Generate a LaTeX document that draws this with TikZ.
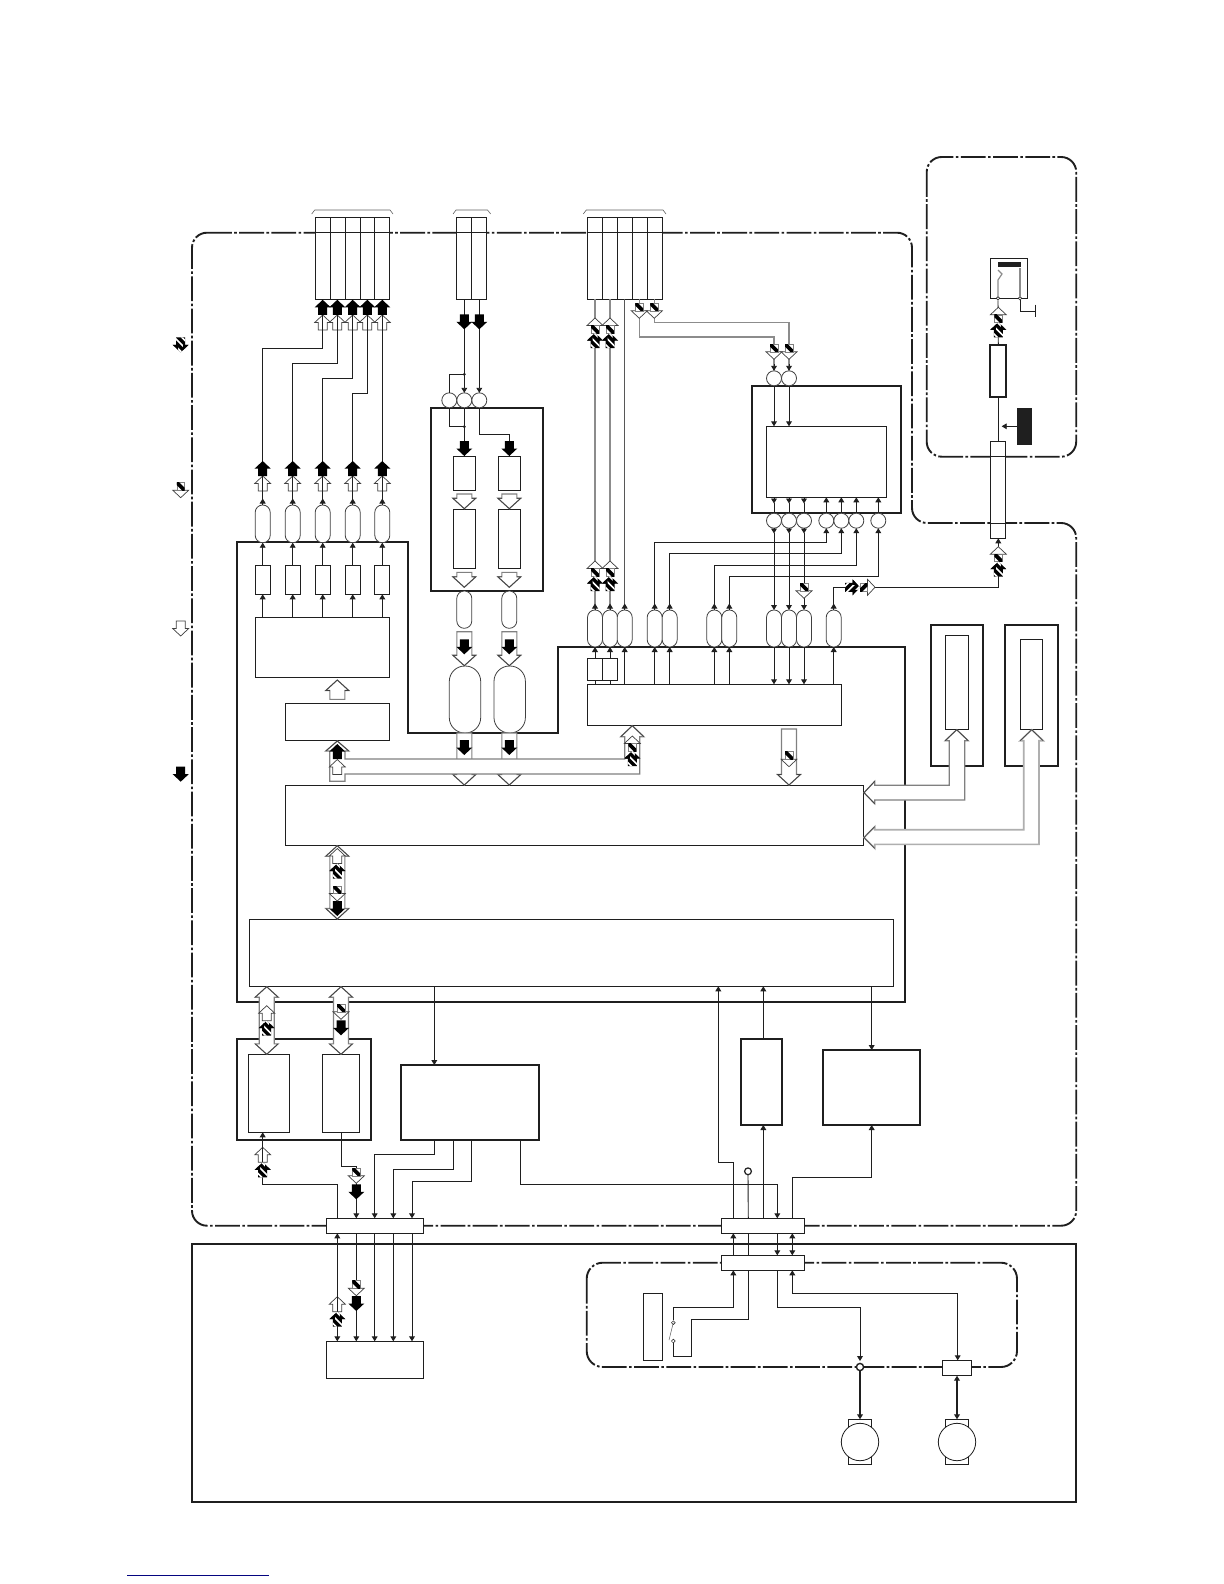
\documentclass[tikz,border=0pt]{standalone}
\usetikzlibrary{arrows.meta,shapes.geometric}
\definecolor{ink}{gray}{0.12}
\definecolor{busgray}{gray}{0.5}
\definecolor{wiregray}{gray}{0.55}
\definecolor{rulenavy}{rgb}{0.02,0.02,0.5}
\tikzset{
  thinbox/.style={draw=ink,fill=white,line width=0.45pt,inner sep=0pt,outer sep=0pt},
  thickbox/.style={draw=ink,fill=white,line width=0.95pt,inner sep=0pt,outer sep=0pt},
  capsule/.style={draw=ink!85,fill=white,line width=0.4pt,rounded corners=3.7pt,inner sep=0pt,outer sep=0pt},
  bigcapsule/.style={draw=ink!85,fill=white,line width=0.4pt,rounded corners=7.7pt,inner sep=0pt,outer sep=0pt},
  ring/.style={circle,draw=ink!85,fill=white,line width=0.4pt,minimum size=7.5pt,inner sep=0pt,outer sep=0pt},
  jdot/.style={circle,fill=ink,minimum size=1.6pt,inner sep=0pt,outer sep=0pt},
  wire/.style={draw=ink,line width=0.45pt},
  gwire/.style={draw=wiregray,line width=0.6pt},
  wa/.style={wire,-{Triangle[length=2.5pt,width=2.9pt]}},
  wd/.style={wire,{Triangle[length=2.5pt,width=2.9pt]}-{Triangle[length=2.5pt,width=2.9pt]}},
  heavy/.style={draw=ink,line width=0.95pt},
  dd/.style={draw=ink,line width=0.95pt,dash pattern=on 12.4pt off 1.2pt on 1.3pt off 1.2pt},
  headln/.style={draw=ink!85,line width=0.35pt},
}
\newcommand{\Bx}[6][thinbox]{\node[#1,minimum width={(#5-#3)*0.5pt},minimum height={(#6-#4)*0.5pt}] (#2) at ({(#3+#5)/2},{(#4+#6)/2}) {};}
\newcommand{\Cp}[5][capsule]{\node[#1,minimum width={(#3)*0.5pt},minimum height={(#5-#4)*0.5pt}] (#2) at (\cpx,{(#4+#5)/2}) {};}
\newcommand{\ArrP}{(-4.5,-15)--(4.5,-15)--(4.5,-7.5)--(8,-7.5)--(0,0)--(-8,-7.5)--(-4.5,-7.5)--cycle}
\newcommand{\Bk}[3]{\fill[black,shift={(#1,#2)},rotate=#3] \ArrP;}
\newcommand{\Ho}[3]{\filldraw[fill=white,headln,shift={(#1,#2)},rotate=#3] \ArrP;}
\newcommand{\Hf}[3]{\begin{scope}[shift={(#1,#2)},rotate=#3]\begin{scope}\clip \ArrP;
  \fill[black] (-9,-16) rectangle (9,1);
  \foreach \k in {-14,-6.5,1,8.5}{\draw[white,line width=0.8pt] (\k-12,-19.5) -- (\k+12,4.5);}
  \end{scope}
  \fill[black] (-8,-7.5) -- (-2.5,-7.5) -- (-2.5,-2.3) -- cycle;
  \fill[black] (8,-7.5) -- (2.5,-7.5) -- (2.5,-2.3) -- cycle;
  \end{scope}}
\newcommand{\Hq}[3]{\begin{scope}[shift={(#1,#2)},rotate=#3]
  \filldraw[fill=white,headln] (-8,-7.5) -- (0,0) -- (8,-7.5) -- cycle;
  \filldraw[fill=white,draw=busgray,line width=0.3pt] (-3.9,-15) rectangle (3.9,-7.5);
  \begin{scope}\clip (-3.9,-15) rectangle (3.9,-7.5);
  \draw[black,line width=1.9pt] (-7,-18.25) -- (7,-4.25);
  \fill[black] (-3.9,-15) -- (-3.9,-13) -- (-1.9,-15) -- cycle;
  \end{scope}\end{scope}}
\newcommand{\LgA}[4]{\begin{scope}[shift={(#1,#2)},rotate=#3]
  \filldraw[fill=white,draw=busgray,line width=0.55pt] (-7.5,-#4) -- (7.5,-#4) -- (7.5,-10.5) -- (11.5,-10.5) -- (0,0) -- (-11.5,-10.5) -- (-7.5,-10.5) -- cycle;
  \draw[headln] (-7.5,-10.5) -- (-11.5,-10.5) -- (0,0) -- (11.5,-10.5) -- (7.5,-10.5);
  \end{scope}}
\newcommand{\LgD}[3]{
  \filldraw[fill=white,draw=busgray,line width=0.55pt] (#1,#2) -- ++(11.5,10.5) -- ++(-4,0) -- (#1+7.5,#3-10.5) -- ++(4,0) -- (#1,#3) -- ++(-11.5,-10.5) -- ++(4,0) -- (#1-7.5,#2+10.5) -- ++(-4,0) -- cycle;
  \draw[headln] (#1-11.5,#2+10.5) -- (#1,#2) -- (#1+11.5,#2+10.5);
  \draw[headln] (#1-11.5,#3-10.5) -- (#1,#3) -- (#1+11.5,#3-10.5);}
\begin{document}
\begin{tikzpicture}[x=0.5pt,y=-0.5pt]
\path[use as bounding box,fill=white] (0,0) rectangle (1224,1584);

% ---- dash-dot regions and outer frames
\draw[dd,rounded corners=7.5pt] (192,232.7) -- (912,232.7) -- (912,523) -- (1076.2,523) -- (1076.2,1225.7) -- (192,1225.7) -- cycle;
\draw[dd,rounded corners=7.5pt] (926.7,157) rectangle (1076.2,456.7);
\draw[dd,rounded corners=8pt] (586.7,1262.7) rectangle (1017,1367);
\draw[heavy] (192,1244) rectangle (1076.2,1502);
\draw[heavy] (237,542) -- (408,542) -- (408,733) -- (558,733) -- (558,647) -- (905,647) -- (905,1002) -- (237,1002) -- cycle;
\draw[rulenavy,line width=0.8pt] (127.3,1575.3) -- (269,1575.3);

% ---- connector blocks at the top
\foreach \i/\a/\b in {1/315.3/330.3,2/330.3/345.7,3/345.7/360,4/360/374.3,5/374.3/389.7}{\Bx{gA\i}{\a}{217.3}{\b}{299.3}}
\foreach \i/\a/\b in {1/456.3/471.7,2/471.7/486.7}{\Bx{gB\i}{\a}{217.3}{\b}{299.3}}
\foreach \i/\a/\b in {1/587.3/602.3,2/602.3/617.7,3/617.7/632.7,4/632.7/647.7,5/647.7/662.7}{\Bx{gC\i}{\a}{217.3}{\b}{299.3}}
\draw[wire] (gA1.west |- 0,232.7) -- (gA5.east |- 0,232.7);
\draw[wire] (gB1.west |- 0,232.7) -- (gB2.east |- 0,232.7);
\draw[wire] (gC1.west |- 0,232.7) -- (gC5.east |- 0,232.7);
\draw[draw=ink!70,line width=0.3pt] (311.7,214) -- (314.7,210) -- (390,210) -- (393,214);
\draw[draw=ink!70,line width=0.3pt] (453,214) -- (456,210) -- (487.5,210) -- (490.7,214);
\draw[draw=ink!70,line width=0.3pt] (583.3,214) -- (586.3,210) -- (663,210) -- (666,214);

% ---- output driver group
\Bx{boxDrv}{255.3}{617.3}{389.7}{677.7}
\Bx{boxPre}{285.3}{703.3}{389.7}{740.3}
\foreach \i/\x in {1/262.7,2/292.7,3/322.7,4/352.7,5/382.3}{
  \def\cpx{\x}\Cp{oa\i}{15}{505}{542.7}
  \node[thinbox,minimum width=7.5pt,minimum height=14.3pt] (ra\i) at (\x,580) {};
}
% ---- middle thick group
\Bx[thickbox]{boxMid}{430.7}{407.7}{543.3}{591}
\Bx{rb1}{453.3}{456.3}{475.7}{490.7}
\Bx{rb2}{498.3}{456.3}{520.7}{490.7}
\Bx{rc1}{453.3}{509.3}{475.7}{568.3}
\Bx{rc2}{498.3}{509.3}{520.7}{568.3}
\node[ring] (rA1) at (449.3,400.3) {};
\node[ring] (rA2) at (464.3,400.3) {};
\node[ring] (rA3) at (479.3,400.3) {};
\node[jdot] (jn1) at (464.3,374.3) {};
\node[jdot] (jn2) at (464.3,426.7) {};
\def\cpx{464.3}\Cp{od1}{15}{591}{628.3}
\def\cpx{509.3}\Cp{od2}{15}{591}{628.3}
\def\cpx{465}\Cp[bigcapsule]{oe1}{31.4}{666}{733}
\def\cpx{509.7}\Cp[bigcapsule]{oe2}{31.4}{666}{733}

% ---- right upper thick group
\Bx[thickbox]{boxR}{751.7}{385.7}{901}{513.3}
\Bx{boxIn}{766.3}{426.3}{886.7}{497.3}
\node[ring] (ct1) at (774,378.3) {};
\node[ring] (ct2) at (789,378.3) {};
\foreach \i/\x in {1/774,2/789,3/804,4/826.3,5/841.3,6/856.3,7/878.3}{\node[ring] (cb\i) at (\x,520.7) {};}

% ---- lower ovals and control box
\foreach \i/\x in {1/595,2/610,3/624.7,4/654.7,5/669.7,6/714.3,7/729.3,8/774,9/789,10/804,11/833.7}{\def\cpx{\x}\Cp{oc\i}{15}{610}{647}}
\Bx{boxCtl}{587.3}{684.3}{841.7}{725.3}
\Bx{sr1}{587.3}{658.3}{602.3}{680.3}
\Bx{sr2}{602.3}{658.3}{617.7}{680.3}

% ---- wide boxes
\Bx{boxWide}{285.3}{785.3}{863.7}{845.3}
\Bx{boxBase}{249.3}{919.3}{893.3}{986.3}

% ---- right side units
\Bx[thickbox]{boxA}{930.7}{624.7}{983.3}{766.3}
\Bx{inA}{945.3}{635.3}{968.7}{729.3}
\Bx[thickbox]{boxB}{1004.7}{624.7}{1058.3}{766.3}
\Bx{inB}{1020.3}{639.3}{1042.7}{729.3}

% ---- top right
\Bx{connR}{990.3}{441.3}{1005.7}{538.3}
\draw[wire] (connR.west |- 0,456.7) -- (connR.east |- 0,456.7);
\draw[wire] (connR.west |- 0,523) -- (connR.east |- 0,523);
\Bx[thickbox]{boxT}{990.3}{344.7}{1005.7}{397}
\Bx{boxS}{990.3}{258.3}{1027.7}{298.3}
\node[fill=ink,inner sep=0pt,minimum width=11.5pt,minimum height=2.5pt] (barS) at (1009.5,264.8) {};
\node[fill=ink,inner sep=0pt,minimum width=7.5pt,minimum height=18.3pt] (blk) at (1024.5,426.3) {};
\node[circle,draw=ink,fill=white,line width=0.3pt,minimum size=1.7pt,inner sep=0pt] (ps1) at (998,298.3) {};
\node[circle,draw=ink,fill=white,line width=0.3pt,minimum size=1.7pt,inner sep=0pt] (ps2) at (1020,298.3) {};
\node[inner sep=0pt,minimum size=0pt] (gnd) at (1035.3,311.3) {};

% ---- lower left units
\Bx[thickbox]{boxM}{236.7}{1039}{371}{1140}
\Bx{inM1}{248.3}{1054.3}{289.3}{1132.3}
\Bx{inM2}{322.3}{1054.3}{359.3}{1132.3}
\Bx[thickbox]{boxP}{400.7}{1065}{539.3}{1140}
\Bx[thickbox]{boxQ}{740.7}{1039}{782.3}{1125}
\Bx[thickbox]{boxV}{822.7}{1050}{920}{1125}
\Bx{cnL}{326.3}{1218.3}{423.3}{1233.3}
\Bx{cnA}{721.3}{1218.3}{804.7}{1233.3}
\Bx{cnB}{721.3}{1255.3}{804.7}{1270.3}
\Bx{boxLow}{326.3}{1341.3}{423.3}{1378.3}
\Bx{rPan}{643.3}{1293.3}{662.7}{1360.3}
\Bx{rMot}{942.3}{1360.3}{971.7}{1375.7}
\Bx{mb1}{848.3}{1419.3}{871.7}{1464.3}
\Bx{mb2}{945.3}{1419.3}{968.7}{1464.3}
\node[circle,draw=ink,fill=white,line width=0.4pt,minimum size=18.7pt,inner sep=0pt,outer sep=0pt] (m1) at (860,1442) {};
\node[circle,draw=ink,fill=white,line width=0.4pt,minimum size=18.7pt,inner sep=0pt,outer sep=0pt] (m2) at (957,1442) {};
\node[circle,draw=ink,fill=white,line width=0.6pt,minimum size=3.4pt,inner sep=0pt,outer sep=0pt] (pin) at (748,1171.3) {};
\node[diamond,draw=ink,fill=white,line width=0.25pt,minimum size=2pt,inner sep=0pt] (sw1) at (673.3,1322.7) {};
\node[diamond,draw=ink,fill=white,line width=0.25pt,minimum size=2pt,inner sep=0pt] (sw2) at (673.3,1341) {};

% ---- hollow arrows and buses
\foreach \x in {322.7,337.3,352.7,367.3,382.3}{\Ho{\x}{315}{180}}
\foreach \x in {262.7,292.7,322.7,352.7,382.3}{\Ho{\x}{476}{180}}
\foreach \x in {464.3,509.3}{\LgA{\x}{508.7}{0}{14.7}\LgA{\x}{587.3}{0}{15}\LgA{\x}{665.7}{0}{34}\LgA{\x}{785}{0}{52}}
\LgA{337.3}{680}{180}{19.3}
\LgA{789}{785}{0}{56}
\filldraw[fill=white,draw=busgray,line width=0.6pt] (337.3,741) -- (348.8,751) -- (345,751) -- (345,759) -- (624.7,759) -- (624.7,736.7) -- (620.8,736.7) -- (632.3,725.7) -- (643.8,736.7) -- (639.7,736.7) -- (639.7,774) -- (345,774) -- (345,781.3) -- (329.7,781.3) -- (329.7,751) -- (325.8,751) -- cycle;
\draw[headln] (325.8,751) -- (337.3,741) -- (348.8,751);
\draw[headln] (620.8,736.7) -- (632.3,725.7) -- (643.8,736.7);
\Ho{337.3}{759.5}{180}
\LgD{337.3}{845.7}{919}
\Ho{337.3}{848.5}{180}
\LgD{266.7}{986.7}{1054.3}
\Ho{266.7}{1005.7}{180}
\LgD{341}{986.7}{1054.3}
\filldraw[fill=white,draw=busgray,line width=0.6pt] (956.7,729.7) -- (968.2,740.7) -- (964.7,740.7) -- (964.7,800) -- (874.7,800) -- (874.7,803.7) -- (864,792.7) -- (874.7,781.3) -- (874.7,785.3) -- (949.3,785.3) -- (949.3,740.7) -- (945.2,740.7) -- cycle;
\draw[headln] (945.2,740.7) -- (956.7,729.7) -- (968.2,740.7);
\draw[headln] (874.7,803.7) -- (864,792.7) -- (874.7,781.3);
\filldraw[fill=white,draw=wiregray!70,line width=0.8pt] (1031.7,729.7) -- (1043.2,740.7) -- (1039,740.7) -- (1039,844.3) -- (874.7,844.3) -- (874.7,848.3) -- (864,837.5) -- (874.7,826.7) -- (874.7,829.7) -- (1023.7,829.7) -- (1023.7,740.7) -- (1020.2,740.7) -- cycle;
\draw[headln] (1020.2,740.7) -- (1031.7,729.7) -- (1043.2,740.7);
\draw[headln] (874.7,848.3) -- (864,837.5) -- (874.7,826.7);
\Ho{262.7}{1147.3}{180}
\Ho{337.3}{1296.7}{180}

% ---- wires: output driver
\draw[wire] (322.7,0 |- gA1.south) -- (322.7,348.3) -| (262.7,0 |- oa1.north);
\draw[wire] (337.3,0 |- gA2.south) -- (337.3,363.3) -| (292.7,0 |- oa2.north);
\draw[wire] (352.7,0 |- gA3.south) -- (352.7,378.3) -| (322.7,0 |- oa3.north);
\draw[wire] (367.3,0 |- gA4.south) -- (367.3,393.3) -| (352.7,0 |- oa4.north);
\draw[wire] (382.3,0 |- gA5.south) -- (382.3,0 |- oa5.north);
\foreach \i/\x in {1/262.7,2/292.7,3/322.7,4/352.7,5/382.3}{
  \draw[wa] (\x,0 |- oa\i.north) -- (\x,498.5);
  \draw[wa] (\x,0 |- ra\i.north) -- (\x,0 |- oa\i.south);
  \draw[wa] (\x,0 |- boxDrv.north) -- (\x,0 |- ra\i.south);
}
% ---- wires: middle group
\draw[wa] (464.3,0 |- gB1.south) -- (rA2.north);
\draw[wa] (479.3,0 |- gB2.south) -- (rA3.north);
\draw[wire] (jn1) -| (rA1.north);
\draw[wire] (rA1.south) |- (jn2);
\draw[wire] (rA2.south) -- (464.3,0 |- rb1.north);
\draw[wire] (rA3.south) -- (479.3,434.7) -| (509.3,0 |- rb2.north);
% ---- wires: right group
\foreach \i/\x in {1/595,2/610}{
  \draw[gwire] (\x,0 |- gC\i.south) -- (\x,0 |- oc\i.north);
  \draw[wa] (\x,0 |- oc\i.north) -- (\x,603.5);
  \draw[wa] (\x,0 |- sr\i.north) -- (\x,0 |- oc\i.south);
  \draw[wire] (\x,0 |- boxCtl.north) -- (\x,0 |- sr\i.south);
}
\draw[draw=ink!75,line width=0.5pt] (624.7,0 |- gC3.south) -- (624.7,0 |- oc3.north);
\draw[wa] (624.7,0 |- oc3.north) -- (624.7,603.5);
\draw[wa] (624.7,0 |- boxCtl.north) -- (624.7,0 |- oc3.south);
\draw[gwire] (639.3,0 |- gC4.south) -- (639.3,337) -| (774,344.3);
\draw[gwire] (654.3,0 |- gC5.south) -- (654.3,322.3) -| (789,344.3);
\draw[gwire] (774,344.3) -- (ct1.north);
\draw[gwire] (789,344.3) -- (ct2.north);
\draw[wa] (774,364) -- (ct1.north);
\draw[wa] (789,364) -- (ct2.north);
\draw[wa] (ct1.south) -- (774,0 |- boxIn.north);
\draw[wa] (ct2.south) -- (789,0 |- boxIn.north);
\foreach \i/\j/\x in {1/8/774,2/9/789,3/10/804}{
  \draw[wa] (\x,0 |- boxIn.south) -- (\x,503.5);
  \draw[wire] (\x,503) -- (cb\i.north);
  \draw[wa] (cb\i.south) -- (\x,533.5);
  \draw[wa] (\x,533) -- (oc\j.north);
  \draw[wa] (oc\j.south) -- (\x,0 |- boxCtl.north);
}
\foreach \i/\x in {4/826.3,5/841.3,6/856.3,7/878.3}{\draw[wa] (cb\i.north) -- (\x,0 |- boxIn.south);}
\foreach \i/\j/\x/\y in {4/4/654.7/542.3,5/5/669.7/553.3,6/6/714.3/565.3,7/7/729.3/576.7}{
  \draw[wa] (\x,0 |- oc\j.north) -- (\x,\y) -| (cb\i.south);
  \draw[wa] (\x,0 |- oc\j.north) -- (\x,603.5);
  \draw[wa] (\x,0 |- boxCtl.north) -- (\x,0 |- oc\j.south);
}
\draw[wire] (833.7,0 |- oc11.north) -- (833.7,587.3) -- (850,587.3);
\draw[wa] (833.7,0 |- oc11.north) -- (833.7,603.5);
\draw[wa] (833.7,0 |- boxCtl.north) -- (833.7,0 |- oc11.south);
\draw[wa] (875,587.3) -| (998.3,0 |- connR.south);
% ---- wires: top right
\draw[wire] (998.3,0 |- connR.north) -- (998.3,0 |- boxT.south);
\draw[wa] (blk.west) -- (1001.7,426.3);
\draw[wire] (998.3,0 |- boxT.north) -- (ps1.south);
\draw[wire] (ps2.south) |- (gnd.center);
\draw[wire] (1035.3,304.7) -- (1035.3,316.7);
\draw[gwire] (ps1.north) -- (998,280) -- (1002,274) -- (998,270);
\draw[gwire] (ps2.north) -- (1020,0 |- barS.south);
% ---- wires: wide box and lower
\draw[wa] (434.3,0 |- boxBase.south) -- (434.3,0 |- boxP.north);
\draw[wa] (871.7,0 |- boxBase.south) -- (871.7,0 |- boxV.north);
\draw[wa] (763.3,0 |- boxQ.north) -- (763.3,0 |- boxBase.south);
\draw[wa] (763.3,0 |- cnA.north) -- (763.3,0 |- boxQ.south);
\draw[wa] (733.3,0 |- cnA.north) -- (733.3,1162.3) -| (718.3,0 |- boxBase.south);
\draw[wire] (748.3,0 |- cnA.north) -- (pin.south);
\draw[wa] (792.3,0 |- cnA.north) -- (792.3,1177.3) -| (871.7,0 |- boxV.south);
\draw[wa] (434.3,0 |- boxP.south) -- (434.3,1154.3) -| (374.7,0 |- cnL.north);
\draw[wa] (453.3,0 |- boxP.south) -- (453.3,1169.3) -| (393.3,0 |- cnL.north);
\draw[wa] (471.3,0 |- boxP.south) -- (471.3,1181.3) -| (412,0 |- cnL.north);
\draw[wa] (520.7,0 |- boxP.south) -- (520.7,1184.3) -| (777.3,0 |- cnA.north);
\draw[wa] (337.3,0 |- cnL.north) -- (337.3,1184.3) -| (262.7,0 |- inM1.south);
\draw[wa] (341.3,0 |- inM2.south) -- (341.3,1166.3) -| (356.3,0 |- cnL.north);
\draw[wd] (337.3,0 |- cnL.south) -- (337.3,0 |- boxLow.north);
\foreach \x in {356.3,374.7,393.3,412}{\draw[wa] (\x,0 |- cnL.south) -- (\x,0 |- boxLow.north);}
\draw[wa] (733.3,0 |- cnB.north) -- (733.3,0 |- cnA.south);
\draw[wire] (748.3,0 |- cnB.north) -- (748.3,0 |- cnA.south);
\draw[wa] (777.3,0 |- cnA.south) -- (777.3,0 |- cnB.north);
\draw[wd] (792.3,0 |- cnA.south) -- (792.3,0 |- cnB.north);
\draw[wa] (sw1.north) -- (673.3,1307.3) -| (733.3,0 |- cnB.south);
\draw[wire] (sw2.south) -- (673.3,1356.3) -- (691.3,1356.3) -- (691.3,1319.3) -| (748.3,0 |- cnB.south);
\draw[draw=ink!70,line width=0.25pt] (sw1.center) -- (669,1340);
\draw[wa] (777.3,0 |- cnB.south) -- (777.3,1307.3) -| (860,1361);
\node[circle,draw=ink,fill=white,line width=0.7pt,minimum size=3.6pt,inner sep=0pt,outer sep=0pt] (jm) at (860,1367) {};
\draw[wd] (792.3,0 |- cnB.south) -- (792.3,1293.3) -| (957.7,0 |- rMot.north);
\draw[draw=ink,line width=0.95pt,-{Triangle[length=2.5pt,width=2.9pt]}] (jm.south) -- (860,0 |- mb1.north);
\draw[draw=ink,line width=0.95pt,{Triangle[length=2.5pt,width=2.9pt]}-{Triangle[length=2.5pt,width=2.9pt]}] (957,0 |- rMot.south) -- (957,0 |- mb2.north);

% ---- black and hatched arrows
\foreach \x in {322.7,337.3,352.7,367.3,382.3}{\Bk{\x}{299.8}{180}}
\foreach \x in {262.7,292.7,322.7,352.7,382.3}{\Bk{\x}{461}{180}}
\foreach \x in {464.3,479.3}{\Bk{\x}{329.3}{0}}
\foreach \x in {464.3,509.3}{\Bk{\x}{456}{0}\Bk{\x}{654.3}{0}\Bk{\x}{755}{0}}
\Bk{337.3}{744}{180}
\Bk{341}{1035.3}{0}
\Bk{356.3}{1199.3}{0}
\Bk{356.3}{1311}{0}
\Bk{337.3}{916}{0}
% hatched pairs, pointing up
\foreach \x/\y in {595/318,610/318,595/561,610/561,998.3/546.7,998.3/307.3,632.3/736}{
  \pgfmathsetmacro{\yb}{\y+15}
  \Hq{\x}{\y}{180}
  \Hf{\x}{\yb}{180}
}
\Hq{639.3}{318.3}{0}
\Hq{654.3}{318.3}{0}
\Hq{774}{359.3}{0}
\Hq{789}{359.3}{0}
\Hq{804}{598.3}{0}
\Hf{860}{587.3}{90}
\Hq{875}{587.3}{90}
\Hq{789}{766.7}{0}
\Hf{337.3}{863.5}{180}
\Hq{337.3}{901}{0}
\Hf{266.7}{1020.7}{180}
\Hq{341}{1019.3}{0}
\Hf{262.7}{1162.3}{180}
\Hq{356.3}{1183.3}{0}
\Hq{356.3}{1295.7}{0}
\Hf{337.3}{1311.7}{180}

% ---- legend
\Hf{180.7}{352.3}{0}
\Hq{180.7}{497.7}{0}
\Ho{180.7}{636}{0}
\Bk{180.7}{781.7}{0}
\end{tikzpicture}
\end{document}
